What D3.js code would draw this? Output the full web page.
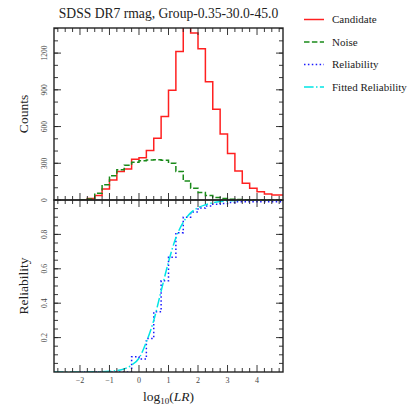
<!DOCTYPE html>
<html>
<head>
<meta charset="utf-8">
<script src="https://d3js.org/d3.v7.min.js"></script>
<style>
	body { margin: 0; background: #fff; }
	svg text { font-family: "Liberation Serif", "DejaVu Serif", serif; fill: #222; }
</style>
</head>
<body>
<div id="chart"></div>
<script>

// left edges of the histogram bins (log10 LR), bins are 0.25 wide
let binLeft = [-2.0, -1.75, -1.5, -1.25, -1.0, -0.75, -0.5, -0.25, 0.0, 0.25, 0.5, 0.75, 1.0, 1.25,
	1.5, 1.75, 2.0, 2.25, 2.5, 2.75, 3.0, 3.25, 3.5, 3.75, 4.0, 4.25, 4.5, 4.75];
let binWidth = 0.25;

// counts per bin
let candidate = [0, 12, 36, 90, 164, 232, 254, 333, 345, 404, 505, 682, 897, 1214,
	1480, 1364, 1235, 965, 742, 540, 379, 237, 136, 97, 67, 48, 41, 40];
let noise = [2, 8, 55, 125, 198, 248, 284, 308, 320, 326, 328, 324, 300, 233,
	155, 96, 62, 36, 20, 12, 7, 4, 2, 1, 1, 0, 0, 0];

// reliability per bin
let reliability = [0, 0, 0, 0, 0, 0, 0, 0.088, 0.075, 0.195, 0.35, 0.53, 0.667, 0.81,
	0.90, 0.93, 0.953, 0.965, 0.975, 0.98, 0.985, 0.99, 0.99, 0.99, 0.99, 0.99, 0.99, 0.99];

// fitted reliability curve
let fitX = [-2.88, -1.5, -1.0, -0.75, -0.5, -0.25, 0.0, 0.25, 0.5, 0.75, 1.0, 1.25, 1.5, 1.75,
	2.0, 2.25, 2.5, 2.75, 3.0, 3.5, 4.0, 4.88];
let fitY = [0, 0.001, 0.004, 0.008, 0.018, 0.04, 0.08, 0.175, 0.30, 0.47, 0.64, 0.78, 0.87, 0.925,
	0.955, 0.972, 0.984, 0.991, 0.995, 0.999, 1.0, 1.0];

// tick labels
let xTicks = [-2, -1, 0, 1, 2, 3, 4];
let countTicks = [0, 300, 600, 900, 1200];
let relTicks = [0.2, 0.4, 0.6, 0.8];

let seriesNames = ["Candidate", "Noise", "Reliability", "Fitted Reliability"];
let seriesColors = ["#ff2020", "#1a8a1a", "#1a1aff", "#00e5e5"];
let seriesDash = [null, "5.5,2.4", "1.5,2.4", "9.6,2.4,1.5,2.4"];

let title = "SDSS DR7 rmag, Group-0.35-30.0-45.0";

let W = 416, H = 416;
let left = 54, right = 283;
let panels = [{top: 28, bottom: 200}, {top: 200, bottom: 372}];

let svg = d3.select("#chart").append("svg")
	.attr("width", W)
	.attr("height", H);

// Scales
let x = d3.scaleLinear().domain([-2.88, 4.88]).range([left, right]);
let yCount = d3.scaleLinear().domain([0, 1405]).range([panels[0].bottom, panels[0].top]);
let yRel = d3.scaleLinear().domain([0, 1.0]).range([panels[1].bottom, panels[1].top]);

// clip areas for both panels
let defs = svg.append("defs");
panels.forEach((p, i) => {
	defs.append("clipPath").attr("id", "clip" + i)
		.append("rect")
		.attr("x", left).attr("y", p.top)
		.attr("width", right - left).attr("height", p.bottom - p.top);
});

// histogram as steps: up from baseline, across each bin, down at the end
function stepPoints(values) {
	let pts = [[binLeft[0], 0]];
	values.forEach((v, i) => pts.push([binLeft[i], v]));
	let end = binLeft[binLeft.length - 1] + binWidth;
	pts.push([end, values[values.length - 1]]);
	pts.push([end, 0]);
	return pts;
}

function drawStep(values, yScale, clipId, k) {
	let line = d3.line()
		.curve(d3.curveStepAfter)
		.x(d => x(d[0]))
		.y(d => yScale(d[1]));
	svg.append("path")
		.attr("clip-path", "url(#" + clipId + ")")
		.attr("d", line(stepPoints(values)))
		.attr("fill", "none")
		.attr("stroke", seriesColors[k])
		.attr("stroke-width", 1.5)
		.attr("stroke-dasharray", seriesDash[k]);
}

drawStep(candidate, yCount, "clip0", 0);
drawStep(noise, yCount, "clip0", 1);
drawStep(reliability, yRel, "clip1", 2);

// fitted curve
let fitLine = d3.line()
	.curve(d3.curveMonotoneX)
	.x(d => x(d[0]))
	.y(d => yRel(d[1]));
svg.append("path")
	.attr("clip-path", "url(#clip1)")
	.attr("d", fitLine(fitX.map((v, i) => [v, fitY[i]])))
	.attr("fill", "none")
	.attr("stroke", seriesColors[3])
	.attr("stroke-width", 1.5)
	.attr("stroke-dasharray", seriesDash[3]);

// inward ticks on all four sides of a panel
function drawTicks(p, yScale, yMajor, yMinor) {
	let g = svg.append("g").attr("stroke", "#222").attr("stroke-width", 0.9);
	let xMajor = d3.range(-2, 5, 1);
	let xMinor = d3.range(-2.75, 4.9, 0.25).filter(v => Math.abs(v - Math.round(v)) > 0.01);
	[[xMajor, 7], [xMinor, 4]].forEach(([vals, len]) => {
		vals.forEach(v => {
			g.append("line").attr("x1", x(v)).attr("x2", x(v))
				.attr("y1", p.bottom).attr("y2", p.bottom - len);
			g.append("line").attr("x1", x(v)).attr("x2", x(v))
				.attr("y1", p.top).attr("y2", p.top + len);
		});
	});
	[[yMajor, 7], [yMinor, 4]].forEach(([vals, len]) => {
		vals.forEach(v => {
			g.append("line").attr("y1", yScale(v)).attr("y2", yScale(v))
				.attr("x1", left).attr("x2", left + len);
			g.append("line").attr("y1", yScale(v)).attr("y2", yScale(v))
				.attr("x1", right).attr("x2", right - len);
		});
	});
	svg.append("rect")
		.attr("x", left).attr("y", p.top)
		.attr("width", right - left).attr("height", p.bottom - p.top)
		.attr("fill", "none")
		.attr("stroke", "#222")
		.attr("stroke-width", 1.4);
}

drawTicks(panels[0], yCount, d3.range(0, 1401, 300), d3.range(100, 1401, 100));
drawTicks(panels[1], yRel, d3.range(0.2, 1.0, 0.2), d3.range(0.05, 1.0, 0.05));

// y tick labels, rotated
function yLabels(vals, yScale) {
	vals.forEach(v => {
		svg.append("text")
			.attr("transform", "translate(44," + yScale(v) + ") rotate(-90)")
			.attr("text-anchor", "middle")
			.attr("dy", "0.35em")
			.style("font-size", "7.5px")
			.style("fill", "#444")
			.text(v);
	});
}
yLabels(countTicks, yCount);
yLabels(relTicks, yRel);

// x tick labels
xTicks.forEach(v => {
	svg.append("text")
		.attr("x", x(v))
		.attr("y", 383)
		.attr("text-anchor", "middle")
		.style("font-size", "8px")
		.style("fill", "#444")
		.text(v < 0 ? "\u2212" + Math.abs(v) : v);
});

// title and axis labels
svg.append("text")
	.attr("x", (left + right) / 2)
	.attr("y", 18)
	.attr("text-anchor", "middle")
	.style("font-size", "13.6px")
	.text(title);

svg.append("text")
	.attr("transform", "translate(28," + (panels[0].top + panels[0].bottom) / 2 + ") rotate(-90)")
	.attr("text-anchor", "middle")
	.style("font-size", "13.5px")
	.text("Counts");

svg.append("text")
	.attr("transform", "translate(28," + (panels[1].top + panels[1].bottom) / 2 + ") rotate(-90)")
	.attr("text-anchor", "middle")
	.style("font-size", "13.5px")
	.text("Reliability");

let xl = svg.append("text")
	.attr("x", (left + right) / 2)
	.attr("y", 401)
	.attr("text-anchor", "middle")
	.style("font-size", "13.5px");
xl.append("tspan").text("log");
xl.append("tspan").attr("dy", 3).style("font-size", "9px").text("10");
xl.append("tspan").attr("dy", -3).text("(");
xl.append("tspan").style("font-style", "italic").text("LR");
xl.append("tspan").text(")");

// legend
let legend = svg.append("g");
seriesNames.forEach((name, i) => {
	let yy = 19.5 + i * 22.5;
	legend.append("line")
		.attr("x1", 304).attr("x2", 324)
		.attr("y1", yy).attr("y2", yy)
		.attr("stroke", seriesColors[i])
		.attr("stroke-width", 1.5)
		.attr("stroke-dasharray", seriesDash[i]);
	legend.append("text")
		.attr("x", 332)
		.attr("y", yy)
		.attr("dy", "0.35em")
		.style("font-size", "11px")
		.text(name);
});

</script>
</body>
</html>
